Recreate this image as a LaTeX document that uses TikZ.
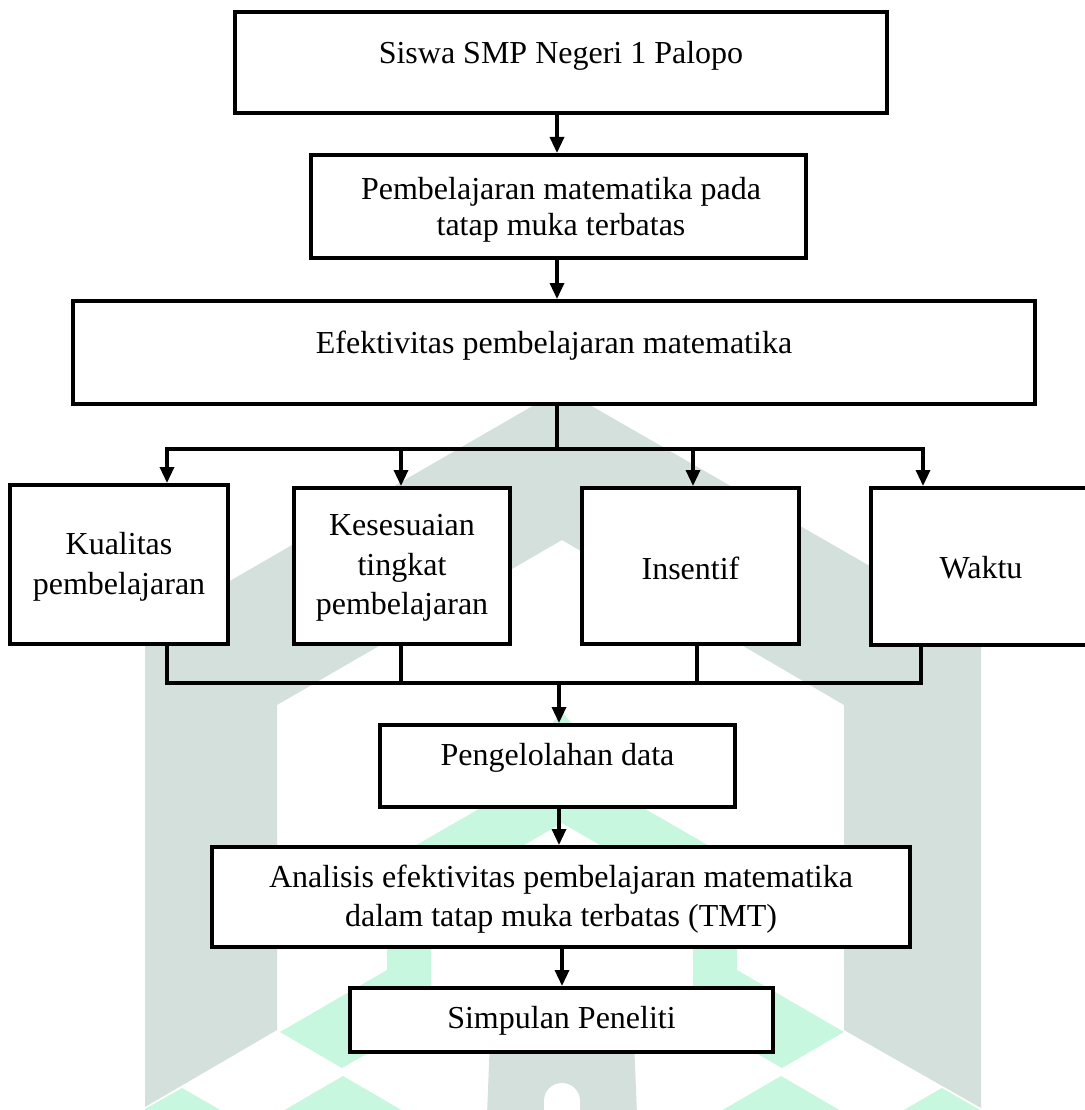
\documentclass[tikz,border=0pt]{standalone}
\usepackage{fontspec}
\setmainfont{Liberation Serif}
\usetikzlibrary{arrows.meta,calc}
\definecolor{wmgrey}{RGB}{212,224,220}
\definecolor{wmmint}{RGB}{200,247,224}
\begin{document}
\begin{tikzpicture}[x=1pt,y=-1pt,
  box/.style={draw=black, line width=4pt, fill=white, inner sep=0pt},
  txt/.style={font=\fontsize{32}{39.5}\selectfont, align=center, inner sep=0pt},
  conn/.style={line width=3.3pt},
  arr/.style={conn, -{Triangle[length=16pt,width=14pt]}}
]
\useasboundingbox[fill=white] (0,0) rectangle (1084,1110);

% ---- watermark ----
\fill[wmgrey] (145,630) -- (562,389) -- (981,630) -- (981,1108) -- (844,1030)
  -- (844,705) -- (562,540) -- (277,705) -- (277,1030) -- (145,1107) -- cycle;
\fill[wmgrey] (490,1040) -- (634,1040) -- (637,1115) -- (487,1115) -- cycle;
\fill[white] (562,1101) circle[radius=18pt];
\fill[white] (544,1101) rectangle (580,1115);
\fill[wmmint] (562,761) -- (387,862) -- (387,970) -- (280,1032) -- (342,1068)
  -- (431,1017) -- (431,899) -- (562,823) -- (693,899) -- (693,1017)
  -- (782,1068) -- (844,1032) -- (737,970) -- (737,862) -- cycle;
\fill[wmmint] (562,712) -- (586,740) -- (562,768) -- (538,740) -- cycle;
\fill[wmmint] (343,1076) -- (410,1115) -- (276,1115) -- cycle;
\fill[wmmint] (781,1076) -- (848,1115) -- (714,1115) -- cycle;
\fill[wmmint] (182,1088) -- (229,1115) -- (145,1115) -- (145,1109) -- cycle;
\fill[wmmint] (942,1088) -- (981,1110.5) -- (981,1115) -- (895,1115) -- cycle;

% ---- boxes ----
\node[box, minimum width=652pt, minimum height=101pt] (b1) at (561,62.5) {};
\node[box, minimum width=495pt, minimum height=103pt] (b2) at (558.5,206.5) {};
\node[box, minimum width=962pt, minimum height=103pt] (b3) at (554,352.5) {};
\node[box, minimum width=218pt, minimum height=159pt] (k1) at (119,564.5) {};
\node[box, minimum width=216pt, minimum height=156pt] (k2) at (402,566) {};
\node[box, minimum width=217pt, minimum height=156pt] (k3) at (690.5,566) {};
\node[box, minimum width=220pt, minimum height=157pt] (k4) at (981,566.5) {};
\node[box, minimum width=355pt, minimum height=82pt] (b5) at (557.5,766) {};
\node[box, minimum width=698pt, minimum height=100pt] (b6) at (561,897) {};
\node[box, minimum width=423pt, minimum height=64pt] (b7) at (561.5,1020) {};

% ---- texts ----
\node[txt] (t1) at (561,56) {Siswa SMP Negeri 1 Palopo};
\node[txt] (t2) at (561,210) {Pembelajaran matematika pada\\[-3pt]tatap muka terbatas};
\node[txt] (t3) at (554,346) {Efektivitas pembelajaran matematika};
\node[txt] (tk1) at (119,567) {Kualitas\\pembelajaran};
\node[txt] (tk2) at (402,568) {Kesesuaian\\tingkat\\pembelajaran};
\node[txt] (tk3) at (690.5,568) {Insentif};
\node[txt] (tk4) at (981,568) {Waktu};
\node[txt] (t5) at (557.5,758) {Pengelolahan data};
\node[txt] (t6) at (561,899) {Analisis efektivitas pembelajaran matematika\\dalam tatap muka terbatas (TMT)};
\node[txt] (t7) at (561.5,1021) {Simpulan Peneliti};

% ---- connectors ----
\coordinate (cx) at (557,0);
\coordinate (j1) at (557,449);
\coordinate (jl) at (167,449);
\coordinate (j2) at (401,449);
\coordinate (j3) at (693,449);
\coordinate (jr) at (923,449);
\coordinate (m1) at (167,683);
\coordinate (m2) at (401,683);
\coordinate (m3) at (697,683);
\coordinate (m4) at (921,683);
\coordinate (m0) at (559,683);
\coordinate (c6) at (562,0);

\draw[arr] (b1.south -| cx) -- (b2.north -| cx);
\draw[arr] (b2.south -| cx) -- (b3.north -| cx);
\draw[conn] (b3.south -| cx) -- (j1);
\draw[conn, line cap=rect] (jl) -- (jr);
\draw[arr] (jl) -- (jl |- k1.north);
\draw[arr] (j2) -- (j2 |- k2.north);
\draw[arr] (j3) -- (j3 |- k3.north);
\draw[arr] (jr) -- (jr |- k4.north);

\draw[conn] (k1.south -| m1) -- (m1);
\draw[conn] (k2.south -| m2) -- (m2);
\draw[conn] (k3.south -| m3) -- (m3);
\draw[conn] (k4.south -| m4) -- (m4);
\draw[conn, line cap=rect] (m1) -- (m4);
\draw[arr] (m0) -- (b5.north -| m0);
\draw[arr] (b5.south -| m0) -- (b6.north -| m0);
\draw[arr] (b6.south -| c6) -- (b7.north -| c6);
\end{tikzpicture}
\end{document}
